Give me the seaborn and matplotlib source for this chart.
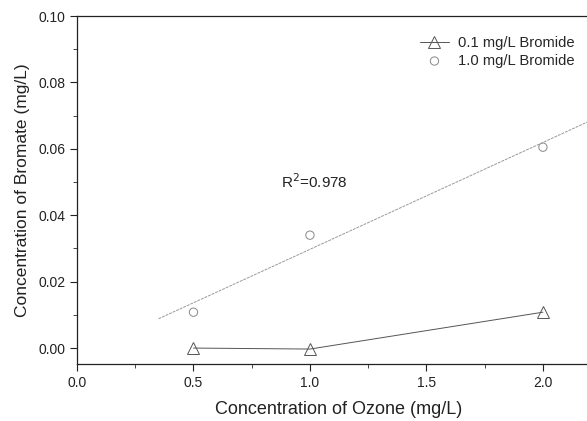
import numpy as np
import pandas as pd
import matplotlib
matplotlib.use("Agg")
import matplotlib.pyplot as plt
import seaborn as sns
from matplotlib.ticker import MultipleLocator

ozone = [0.5, 1.0, 2.0]
bromate_low = [0.0, -0.0003, 0.0108]
bromate_high = [0.0108, 0.034, 0.0605]
fit_x_range = [0.35, 2.3]
r2_label = "R$^2$=0.978"
series_names = ["0.1 mg/L Bromide", "1.0 mg/L Bromide"]

sns.set_theme(style="ticks")
plt.rcParams['font.family'] = ['Liberation Sans', 'DejaVu Sans']

fig = plt.figure(figsize=(5.87, 4.21), dpi=100)
ax = fig.add_axes([77/587, (421-364)/421, (600-77)/587, (364-16)/421])

df_low = pd.DataFrame({"x": ozone, "y": bromate_low})
df_high = pd.DataFrame({"x": ozone, "y": bromate_high})

sns.lineplot(data=df_low, x="x", y="y", ax=ax, color="#555555", lw=0.7,
             marker="^", markersize=8, markerfacecolor="none",
             markeredgecolor="#555555", markeredgewidth=0.7,
             label=series_names[0])
sns.scatterplot(data=df_high, x="x", y="y", ax=ax, marker="o", s=36,
                facecolor="none", edgecolor="#888888", linewidth=0.7,
                label=series_names[1])

slope, intercept = np.polyfit(ozone, bromate_high, 1)
fx = np.array(fit_x_range)
ax.plot(fx, slope * fx + intercept, color="#999999", lw=0.7, ls=(0, (3, 1)))

ax.text(1.02, 0.050, r2_label, fontsize=11, color="#222222", ha="center", va="center")

ax.set_xlim(0, 2.245)
ax.set_ylim(-0.0048, 0.10)
ax.xaxis.set_major_locator(MultipleLocator(0.5))
ax.xaxis.set_minor_locator(MultipleLocator(0.25))
ax.yaxis.set_major_locator(MultipleLocator(0.02))
ax.yaxis.set_minor_locator(MultipleLocator(0.01))
ax.xaxis.set_major_formatter(matplotlib.ticker.FormatStrFormatter("%.1f"))
ax.yaxis.set_major_formatter(matplotlib.ticker.FormatStrFormatter("%.2f"))
ax.tick_params(which="major", direction="out", length=5, width=0.8, labelsize=10, colors="#222222")
ax.tick_params(which="minor", direction="out", length=3, width=0.6)
for s in ax.spines.values():
    s.set_color("#222222")
    s.set_linewidth(0.9)

ax.set_xlabel("Concentration of Ozone (mg/L)", fontsize=13, color="#222222", labelpad=8)
ax.set_ylabel("Concentration of Bromate (mg/L)", fontsize=12.5, color="#222222", labelpad=6)

leg = ax.legend(loc="upper left", bbox_to_anchor=(0.63, 0.98), frameon=False,
                fontsize=10.6, handlelength=2, handletextpad=0.6, labelspacing=0.25)

fig.savefig("out.png", dpi=100)
